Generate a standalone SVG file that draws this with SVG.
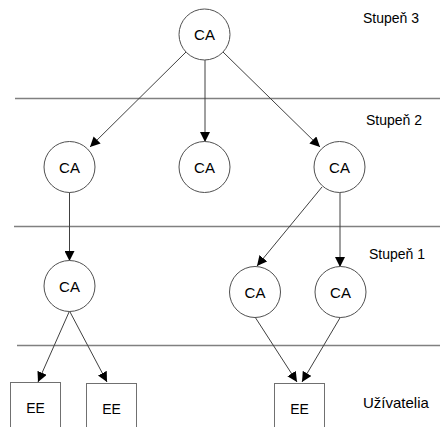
<svg xmlns="http://www.w3.org/2000/svg" width="440" height="427" viewBox="0 0 440 427">
  <defs>
    <marker id="arrow" viewBox="0 0 10 10" refX="10" refY="5" markerWidth="10" markerHeight="10" markerUnits="userSpaceOnUse" orient="auto">
      <path d="M0,0 L10,5 L0,10 z" fill="#000"/>
    </marker>
    <style>
      .level { stroke: #808080; stroke-width: 1.4; }
      .ca circle { fill: #fff; stroke: #505050; stroke-width: 1; }
      .ee rect { fill: #fff; stroke: #707070; stroke-width: 1; }
      text { font-family: "Liberation Sans", Arial, sans-serif; fill: #000; }
      .node { font-size: 15px; text-anchor: middle; }
      .ee text { font-size: 14px; text-anchor: middle; }
      .label { font-size: 14px; }
      #connectors line { stroke: #404040; stroke-width: 1; marker-end: url(#arrow); }
    </style>
  </defs>
  <rect width="440" height="427" fill="#fff"/>

  <!-- level separators -->
  <g id="levels">
    <line class="level" x1="15" y1="98.5" x2="440" y2="98.5"/>
    <line class="level" x1="14" y1="226.5" x2="440" y2="226.5"/>
    <line class="level" x1="17" y1="345.5" x2="440" y2="345.5"/>
  </g>

  <!-- level labels -->
  <g id="labels">
    <text class="label" x="363" y="23">Stupeň 3</text>
    <text class="label" x="366" y="125">Stupeň 2</text>
    <text class="label" x="369" y="259">Stupeň 1</text>
    <text class="label" x="363" y="408" style="font-size:15px">Užívatelia</text>
  </g>

  <!-- connectors -->
  <g id="connectors">
    <line x1="186" y1="52" x2="90" y2="147"/>
    <line x1="205" y1="60" x2="205" y2="142"/>
    <line x1="223" y1="52" x2="320" y2="147"/>
    <line x1="69.5" y1="192" x2="69.5" y2="261"/>
    <line x1="322" y1="187" x2="257" y2="266"/>
    <line x1="340" y1="192" x2="340" y2="267"/>
    <line x1="69.5" y1="311" x2="38" y2="382"/>
    <line x1="69.5" y1="311" x2="107" y2="382"/>
    <line x1="255" y1="317" x2="297" y2="382"/>
    <line x1="340.5" y1="317" x2="302" y2="382"/>
  </g>

  <!-- certification authorities -->
  <g id="ca-root" class="ca">
    <circle cx="204.5" cy="34.5" r="25.5"/>
    <text class="node" x="204.5" y="40">CA</text>
  </g>
  <g id="ca-2a" class="ca">
    <circle cx="69.5" cy="167" r="25.5"/>
    <text class="node" x="69.5" y="172.5">CA</text>
  </g>
  <g id="ca-2b" class="ca">
    <circle cx="204.5" cy="167" r="25.5"/>
    <text class="node" x="204.5" y="172.5">CA</text>
  </g>
  <g id="ca-2c" class="ca">
    <circle cx="339.5" cy="167" r="25.5"/>
    <text class="node" x="339.5" y="172.5">CA</text>
  </g>
  <g id="ca-1a" class="ca">
    <circle cx="69.5" cy="286" r="25.5"/>
    <text class="node" x="69.5" y="291.5">CA</text>
  </g>
  <g id="ca-1b" class="ca">
    <circle cx="255" cy="292" r="25.5"/>
    <text class="node" x="255" y="297.5">CA</text>
  </g>
  <g id="ca-1c" class="ca">
    <circle cx="340.5" cy="292" r="25.5"/>
    <text class="node" x="340.5" y="297.5">CA</text>
  </g>

  <!-- end entities -->
  <g id="ee-1" class="ee">
    <rect x="10.5" y="382.5" width="50" height="60"/>
    <text x="35.5" y="413">EE</text>
  </g>
  <g id="ee-2" class="ee">
    <rect x="86.5" y="383.5" width="50" height="60"/>
    <text x="111.5" y="414">EE</text>
  </g>
  <g id="ee-3" class="ee">
    <rect x="274.5" y="383.5" width="50" height="60"/>
    <text x="299.5" y="414">EE</text>
  </g>
</svg>
